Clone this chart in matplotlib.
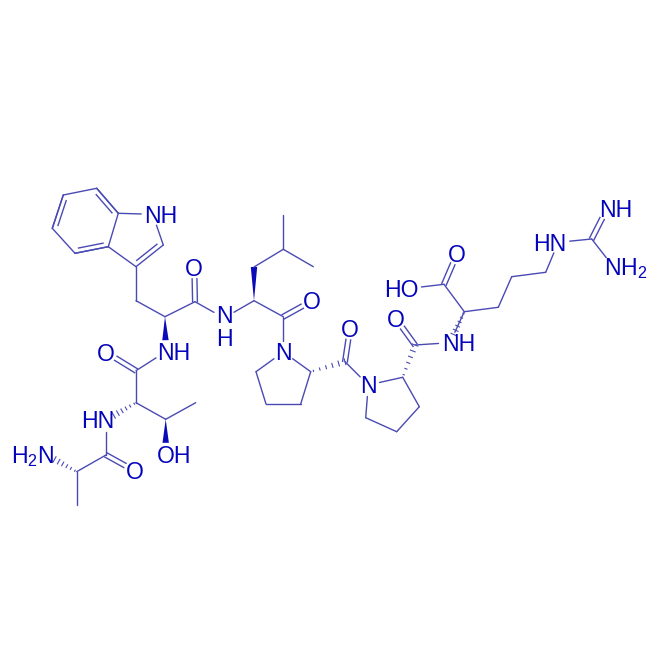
import numpy as np
import matplotlib
matplotlib.use("Agg")
import matplotlib.pyplot as plt

plt.rcParams['font.family'] = ['Liberation Sans', 'DejaVu Sans']
plt.rcParams['mathtext.fontset'] = 'custom'
plt.rcParams['mathtext.rm'] = 'Liberation Sans'
plt.rcParams['mathtext.default'] = 'regular'

BOND_COLOR = "#4a4ab4"
TEXT_COLOR = "#0404bc"

# atom positions
atoms = {
    # Trp indole
    "b1": (52.3, 228.3), "b2": (63.3, 195), "b3": (96.7, 188.3), "b4": (118.3, 213.3),
    "b5": (108.3, 246.7), "b6": (75, 253.3), "wN": (152.7, 214.3), "w2": (163.3, 245),
    "w3": (136, 266.7), "wCH2": (136, 300.7), "wCa": (165, 316.7), "wC": (195, 301.7),
    "wO": (194.3, 267.3), "wNH": (165.7, 351.7),
    # Leu
    "lN": (224, 318), "lCa": (254, 300.7), "lCH2": (254, 267), "lCH": (283.3, 249.3),
    "lMe1": (283.3, 215), "lMe2": (313.3, 266.7), "lC": (283.3, 316.7), "lO": (312.3, 300.7),
    # Thr
    "tC": (136, 370.7), "tO": (106, 352.3), "tCa": (136, 402.7), "tN": (106, 420),
    "tCb": (165.7, 419.3), "tMe": (195.7, 402.7), "tOH": (165.7, 454.3),
    # Ala
    "aC": (106, 455), "aO": (135, 471), "aCa": (76.7, 471.7), "aMe": (76.7, 505),
    "aN": (46.7, 455),
    # Pro 1
    "p1N": (283.3, 352), "p1a": (310.7, 371.7), "p1b": (300.7, 404), "p1c": (266, 404),
    "p1d": (256, 371.7), "p1C": (345, 361.7), "p1O": (350, 328.3),
    # Pro 2
    "p2N": (368.3, 385), "p2a": (402.7, 377.3), "p2b": (419.3, 406.7), "p2c": (396.7, 431.7),
    "p2d": (365.7, 417.7), "p2C": (415, 345), "p2O": (395.7, 318.3),
    # Arg
    "rN": (450, 342.7), "rCa": (464.3, 311.7), "rC": (444, 284.3), "rO": (457.3, 253.3),
    "rOH": (410, 288.3), "rCb": (498.3, 307.3), "rCg": (511.7, 276.7), "rCd": (545.7, 272.3),
    "rNe": (558.3, 242.3), "rCz": (591.7, 239), "rNH": (607.3, 208.3), "rNH2": (613.3, 266.7),
}

# atoms that carry a label, bonds stop short of them
label_atoms = ["wN", "wO", "wNH", "lN", "lO", "tO", "tN", "tOH", "aO", "aN", "p1N", "p1O",
               "p2N", "p2O", "rN", "rO", "rOH", "rNe", "rNH", "rNH2"]

single_bonds = [
    ("b1", "b6"), ("b2", "b3"), ("b3", "b4"), ("b4", "b5"), ("b5", "b6"), ("b1", "b2"),
    ("b4", "wN"), ("wN", "w2"), ("w3", "b5"), ("w3", "wCH2"), ("wCH2", "wCa"), ("wCa", "wC"),
    ("wC", "lN"), ("lN", "lCa"), ("lCa", "lC"), ("lCH2", "lCH"), ("lCH", "lMe1"),
    ("lCH", "lMe2"), ("lC", "p1N"), ("tC", "wNH"), ("tC", "tCa"), ("tCa", "tCb"),
    ("tCb", "tMe"), ("tN", "aC"), ("aC", "aCa"), ("aCa", "aMe"),
    ("p1N", "p1a"), ("p1a", "p1b"), ("p1b", "p1c"), ("p1c", "p1d"), ("p1d", "p1N"),
    ("p1C", "p2N"), ("p2N", "p2a"), ("p2a", "p2b"), ("p2b", "p2c"), ("p2c", "p2d"),
    ("p2d", "p2N"), ("p2C", "rN"), ("rN", "rCa"), ("rCa", "rC"), ("rC", "rOH"),
    ("rCa", "rCb"), ("rCb", "rCg"), ("rCg", "rCd"), ("rCd", "rNe"), ("rNe", "rCz"),
    ("rCz", "rNH2"),
]
carbonyl_bonds = [("wC", "wO"), ("lC", "lO"), ("tC", "tO"), ("aC", "aO"), ("p1C", "p1O"),
                  ("p2C", "p2O"), ("rC", "rO"), ("rCz", "rNH")]
# second line drawn inside the ring, (a, b, ring centre atom pair)
ring_doubles = [("b1", "b2", "b1", "b4"), ("b3", "b4", "b1", "b4"), ("b5", "b6", "b1", "b4"),
                ("w2", "w3", "b4", "w2")]
wedge_bonds = [("wCa", "wNH"), ("lCa", "lCH2"), ("tCb", "tOH")]
hash_bonds = [("aCa", "aN"), ("tCa", "tN"), ("p1a", "p1C"), ("p2a", "p2C"), ("rCa", "rN")]

label_text = ["NH", "O", "NH", "N\nH", "O", "O", "HN", "OH", "O", "H$_2$N", "N", "O",
              "N", "O", "NH", "O", "HO", "HN", "NH", "NH$_2$"]
label_x = [161, 194.3, 174, 224, 312.3, 106, 97.7, 174, 135, 33, 283.3, 350,
           368.3, 395.7, 458.3, 457.3, 401, 550, 615.7, 625.5]
label_y = [214.3, 267.3, 351.7, 338, 300.7, 352.3, 420, 454.3, 471, 455, 352, 328.3,
           385, 318.3, 342.7, 253.3, 288.3, 242.3, 208.3, 266.7]


def segment(a, b, gap=11.5):
    p, q = np.array(atoms[a], float), np.array(atoms[b], float)
    d = (q - p) / np.hypot(*(q - p))
    if a in label_atoms:
        p = p + d * gap
    if b in label_atoms:
        q = q - d * gap
    return p, q, d


fig = plt.figure(figsize=(6.6, 6.6), dpi=100)
ax = fig.add_axes([0, 0, 1, 1])
ax.set_xlim(0, 660)
ax.set_ylim(660, 0)
ax.axis("off")

for a, b in single_bonds:
    p, q, d = segment(a, b)
    ax.plot([p[0], q[0]], [p[1], q[1]], color=BOND_COLOR, lw=1.0, solid_capstyle="round")

for a, b in carbonyl_bonds:
    p, q, d = segment(a, b)
    n = np.array([-d[1], d[0]]) * 2.4
    for s in (-1, 1):
        ax.plot([p[0] + s * n[0], q[0] + s * n[0]], [p[1] + s * n[1], q[1] + s * n[1]],
                color=BOND_COLOR, lw=1.0)

for a, b, c1, c2 in ring_doubles:
    p, q, d = segment(a, b)
    ax.plot([p[0], q[0]], [p[1], q[1]], color=BOND_COLOR, lw=1.0, solid_capstyle="round")
    centre = (np.array(atoms[c1]) + np.array(atoms[c2])) / 2
    n = np.array([-d[1], d[0]])
    if np.dot(centre - p, n) < 0:
        n = -n
    r = p + n * 4.5 + d * 4.5
    s = q + n * 4.5 - d * 4.5
    ax.plot([r[0], s[0]], [r[1], s[1]], color=BOND_COLOR, lw=1.0)

for a, b in wedge_bonds:
    p, q, d = segment(a, b)
    n = np.array([-d[1], d[0]]) * 3.2
    ax.fill([p[0], q[0] + n[0], q[0] - n[0]], [p[1], q[1] + n[1], q[1] - n[1]],
            color="#0a0ab8", lw=0)

for a, b in hash_bonds:
    p, q, d = segment(a, b, gap=9)
    n = np.array([-d[1], d[0]])
    for t in np.linspace(0.08, 1, 6):
        m = p + (q - p) * t
        w = 0.4 + 2.6 * t
        ax.plot([m[0] - n[0] * w, m[0] + n[0] * w], [m[1] - n[1] * w, m[1] + n[1] * w],
                color=BOND_COLOR, lw=0.8)

for txt, x, y in zip(label_text, label_x, label_y):
    ax.text(x, y + 8.3, txt, color=TEXT_COLOR, fontsize=16.6, ha="center", va="baseline",
            linespacing=1.0)

fig.savefig("out.png", dpi=100)
